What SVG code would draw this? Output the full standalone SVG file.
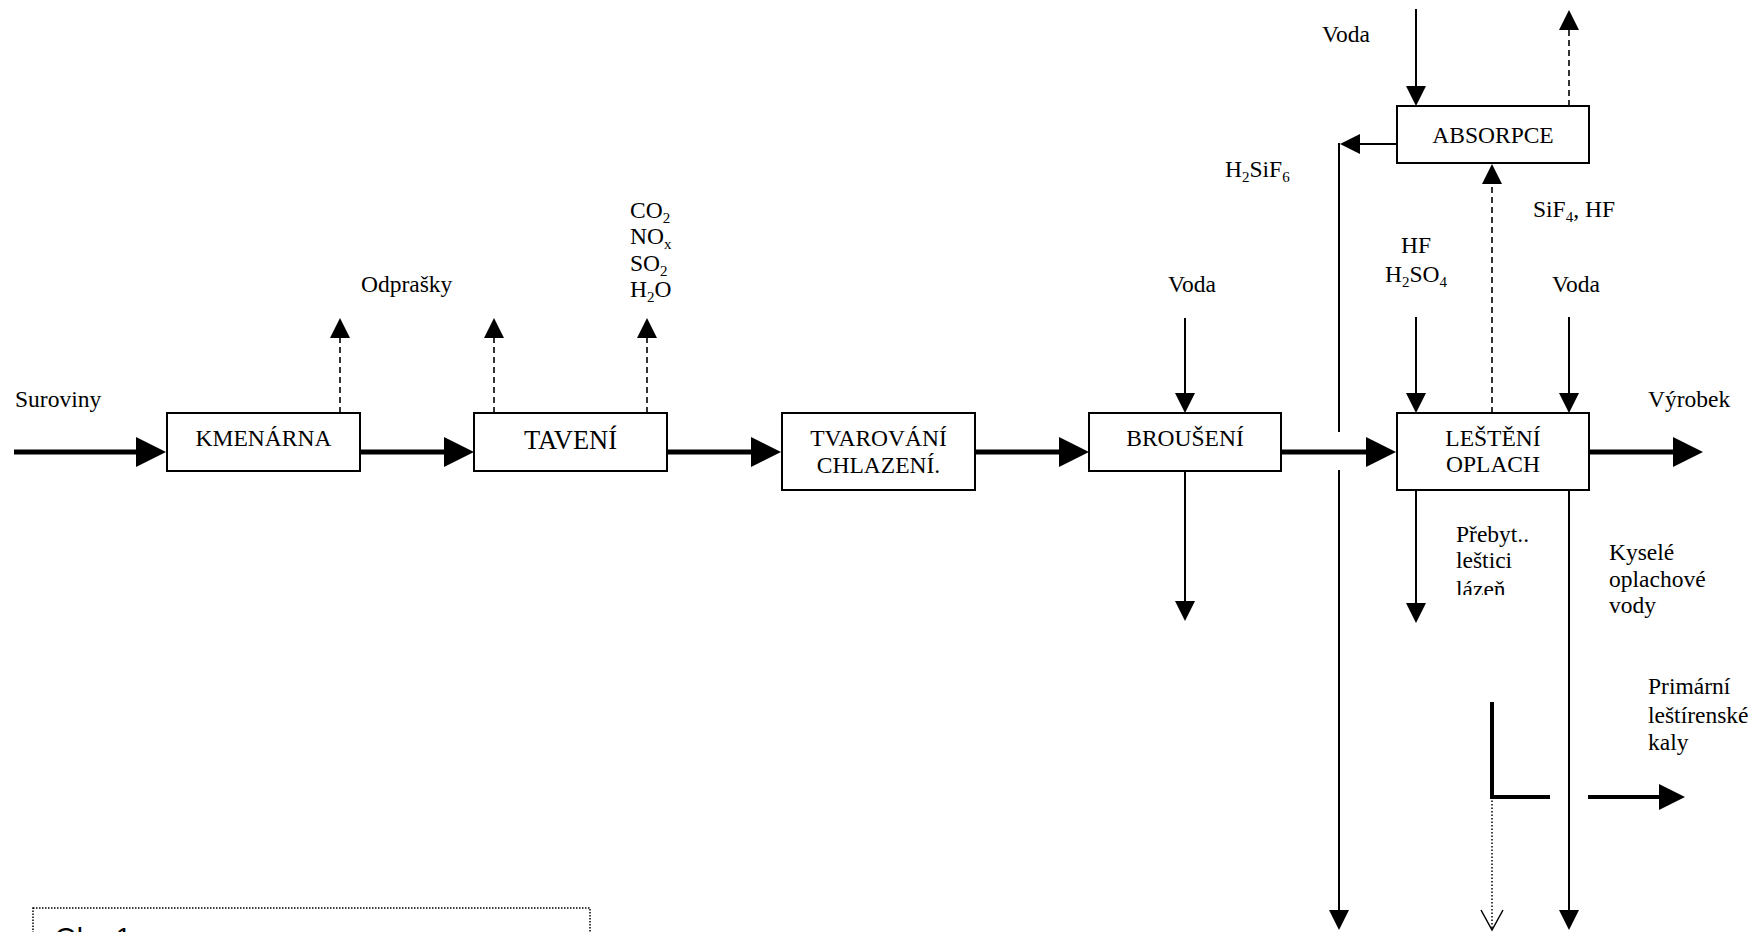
<svg xmlns="http://www.w3.org/2000/svg" width="1764" height="932" viewBox="0 0 1764 932">
<style>
text{font-family:"Liberation Serif","Times New Roman",serif;font-size:23.5px;fill:#000}
.box{fill:#fff;stroke:#000;stroke-width:2}
.c{text-anchor:middle}
.main{stroke:#000;stroke-width:5;fill:none;marker-end:url(#ahBig)}
.thin{stroke:#000;stroke-width:2;fill:none;marker-end:url(#ahThin)}
.dash{stroke:#000;stroke-width:1.6;fill:none;stroke-dasharray:6 4;marker-end:url(#ahThin)}
.plain{stroke:#000;stroke-width:2;fill:none}
.sub{font-size:15px}
</style>
<defs>
<marker id="ahBig" markerUnits="userSpaceOnUse" markerWidth="30" markerHeight="30" refX="0" refY="15" orient="auto"><path d="M0,0 L30,15 L0,30 z" fill="#000"/></marker>
<marker id="ahThin" markerUnits="userSpaceOnUse" markerWidth="20" markerHeight="20" refX="0" refY="10" orient="auto"><path d="M0,0 L20,10 L0,20 z" fill="#000"/></marker>
<marker id="ahMid" markerUnits="userSpaceOnUse" markerWidth="26" markerHeight="26" refX="0" refY="13" orient="auto"><path d="M0,0 L26,13 L0,26 z" fill="#000"/></marker>
<marker id="ahOpen" markerUnits="userSpaceOnUse" markerWidth="24" markerHeight="24" refX="21" refY="11" orient="auto" overflow="visible"><path d="M1,0 L21,11 L1,22" fill="none" stroke="#000" stroke-width="1.5"/></marker>
<clipPath id="clipPreb"><rect x="1440" y="515" width="100" height="80"/></clipPath>
</defs>

<g id="connectors">
<path class="main" d="M14,452 H136"/>
<path class="main" d="M360,452 H444"/>
<path class="main" d="M667,452 H751"/>
<path class="main" d="M975,452 H1059"/>
<path class="main" d="M1281,452 H1366"/>
<path class="main" d="M1589,452 H1673"/>
<path class="dash" d="M340,413 V338"/>
<path class="dash" d="M494,413 V338"/>
<path class="dash" d="M647,413 V338"/>
<path class="dash" d="M1492,413 V184"/>
<path class="dash" d="M1569,106 V30"/>
<path class="thin" d="M1416,9 V86"/>
<path class="thin" d="M1397,144 H1360"/>
<path class="plain" d="M1339,143 V432"/>
<path class="thin" d="M1339,470 V910"/>
<path class="thin" d="M1185,318 V393"/>
<path class="thin" d="M1185,471 V601"/>
<path class="thin" d="M1416,317 V393"/>
<path class="thin" d="M1569,317 V393"/>
<path class="thin" d="M1416,490 V603"/>
<path class="thin" d="M1569,490 V910"/>
<path d="M1492,702 V797 H1550" stroke="#000" stroke-width="4" fill="none"/>
<path d="M1492,797 V930" stroke="#000" stroke-width="1.5" stroke-dasharray="1.5 2" fill="none" marker-end="url(#ahOpen)"/>
<path d="M1588,797 H1659" stroke="#000" stroke-width="4" fill="none" marker-end="url(#ahMid)"/>
</g>

<g id="kmenarna"><rect class="box" x="167" y="413" width="193" height="58"/><text class="c" x="263.5" y="446">KMENÁRNA</text></g>
<g id="taveni"><rect class="box" x="474" y="413" width="193" height="58"/><text class="c" x="570.5" y="449" style="font-size:26.5px">TAVENÍ</text></g>
<g id="tvarovani"><rect class="box" x="782" y="413" width="193" height="77"/><text class="c" x="878.5" y="446">TVAROVÁNÍ</text><text class="c" x="878.5" y="473">CHLAZENÍ.</text></g>
<g id="brouseni"><rect class="box" x="1089" y="413" width="192" height="58"/><text class="c" x="1185" y="446">BROUŠENÍ</text></g>
<g id="lesteni"><rect class="box" x="1397" y="413" width="192" height="77"/><text class="c" x="1493" y="446">LEŠTĚNÍ</text><text class="c" x="1493" y="472">OPLACH</text></g>
<g id="absorpce"><rect class="box" x="1397" y="106" width="192" height="57"/><text class="c" x="1493" y="143">ABSORPCE</text></g>

<g id="labels">
<text x="15" y="407">Suroviny</text>
<text x="361" y="292">Odprašky</text>
<text x="630" y="218">CO<tspan class="sub" dy="5">2</tspan></text>
<text x="630" y="244">NO<tspan class="sub" dy="5">x</tspan></text>
<text x="630" y="271">SO<tspan class="sub" dy="5">2</tspan></text>
<text x="630" y="297">H<tspan class="sub" dy="5">2</tspan><tspan dy="-5">O</tspan></text>
<text x="1168" y="292">Voda</text>
<text x="1322" y="42">Voda</text>
<text x="1225" y="177">H<tspan class="sub" dy="5">2</tspan><tspan dy="-5">SiF</tspan><tspan class="sub" dy="5">6</tspan></text>
<text x="1533" y="217">SiF<tspan class="sub" dy="5">4</tspan><tspan dy="-5">, HF</tspan></text>
<text x="1401" y="253">HF</text>
<text x="1385" y="282">H<tspan class="sub" dy="5">2</tspan><tspan dy="-5">SO</tspan><tspan class="sub" dy="5">4</tspan></text>
<text x="1552" y="292">Voda</text>
<text x="1648" y="407">Výrobek</text>
<g clip-path="url(#clipPreb)"><text x="1456" y="542">Přebyt..</text><text x="1456" y="568">leštici</text><text x="1456" y="597">lázeň</text></g>
<text x="1609" y="560">Kyselé</text>
<text x="1609" y="587">oplachové</text>
<text x="1609" y="613">vody</text>
<text x="1648" y="694">Primární</text>
<text x="1648" y="723">leštírenské</text>
<text x="1648" y="750">kaly</text>
</g>

<g id="caption">
<rect x="33" y="908" width="557" height="60" fill="none" stroke="#000" stroke-width="1.5" stroke-dasharray="1.5 1.5"/>
<text x="55" y="947" style="font-family:'Liberation Sans',Arial,sans-serif;font-size:28px">Obr. 1</text>
</g>
</svg>
